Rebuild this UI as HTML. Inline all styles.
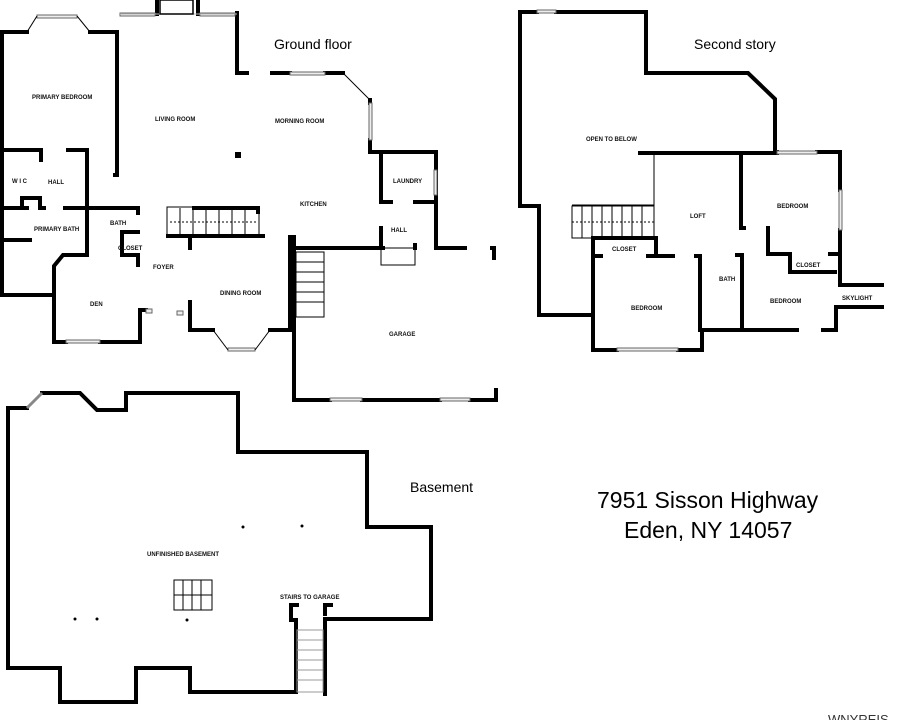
<!DOCTYPE html>
<html><head><meta charset="utf-8"><style>
html,body{margin:0;padding:0;background:#fff;width:923px;height:720px;overflow:hidden}
svg{display:block}
.w{fill:none;stroke:#000;stroke-width:4;stroke-linejoin:miter;stroke-linecap:square}
.t{fill:none;stroke:#000;stroke-width:1}
.win{fill:#eee;stroke:#666;stroke-width:1}
.l{font-family:"Liberation Sans",sans-serif;font-size:6px;font-weight:bold;fill:#111}
.h{font-family:"Liberation Sans",sans-serif;font-size:14px;fill:#000}
.a{font-family:"Liberation Sans",sans-serif;font-size:23px;fill:#000}
</style></head><body>
<svg width="923" height="720" viewBox="0 0 923 720" xmlns="http://www.w3.org/2000/svg">
<g class="w">
<polyline points="0,32 27,32"/>
<polyline points="90,32 117,32 117,175 115,175"/>
<polyline points="2,32 2,295 54,295"/>
<polyline points="237,13 237,73 247,73"/>
<polyline points="272,73 290,73"/>
<polyline points="325,73 343,73"/>
<polyline points="370,100 370,103"/>
<polyline points="370,140 370,152 436,152 436,248 465,248"/>
<polyline points="381,153 381,202 391,202"/>
<polyline points="415,202 433,202"/>
<polyline points="381,228 381,248"/>
<polyline points="415,245 415,248"/>
<polyline points="290,237 294,237 294,400 330,400"/>
<polyline points="362,400 440,400"/>
<polyline points="470,400 496,400 496,390"/>
<polyline points="294,248 383,248"/>
<polyline points="492,248 494,248 494,258"/>
<polyline points="2,150 41,150 41,160"/>
<polyline points="68,150 87,150 87,255"/>
<polyline points="2,208 27,208"/>
<polyline points="22,208 22,198 40,198 40,208 44,208"/>
<polyline points="65,208 138,208 138,213"/>
<polyline points="2,240 30,240"/>
<polyline points="138,232 122,232 122,255 138,255"/>
<polyline points="138,255 138,265"/>
<polyline points="87,255 63,255 54,266 54,342 66,342"/>
<polyline points="100,342 140,342 140,310 146,310"/>
<polyline points="194,208 258,208 258,212"/>
<polyline points="168,236 263,236"/>
<polyline points="190,237 190,248"/>
<polyline points="190,302 190,330 213,330"/>
<polyline points="270,330 290,330 290,237"/>
<polyline points="157,14 157,2"/>
<polyline points="198,14 198,2"/>
</g>
<rect x="235" y="152" width="6" height="6" fill="#000"/>
<g class="win">
<rect x="37" y="15" width="40" height="3"/>
<rect x="120" y="13" width="35" height="3"/>
<rect x="200" y="13" width="35" height="3"/>
<rect x="290" y="72" width="35" height="3"/>
<rect x="369" y="103" width="3" height="37"/>
<rect x="434" y="170" width="3" height="25"/>
<rect x="66" y="340" width="34" height="3"/>
<rect x="228" y="348" width="27" height="3"/>
<rect x="330" y="398" width="32" height="3"/>
<rect x="440" y="398" width="30" height="3"/>
<rect x="146" y="309" width="6" height="4"/>
<rect x="177" y="311" width="6" height="4"/>
</g>
<g class="t">
<line x1="27" y1="32" x2="37" y2="16"/><line x1="77" y1="16" x2="90" y2="32"/>
<line x1="343" y1="73" x2="370" y2="100"/>
<line x1="213" y1="330" x2="228" y2="350"/><line x1="255" y1="350" x2="270" y2="330"/>
<line x1="120" y1="14" x2="237" y2="14" stroke="#bbb"/>
<rect x="167" y="207" width="92" height="29"/>
<line x1="170" y1="222" x2="258" y2="222" stroke-dasharray="2,2"/>
<rect x="296" y="252" width="28" height="65"/>
<rect x="381" y="248" width="34" height="17"/>
<rect x="160" y="0" width="33" height="14" stroke-width="1.5"/>
</g>
<g class="t" stroke="#444">
<line x1="180" y1="208" x2="180" y2="236"/><line x1="193" y1="208" x2="193" y2="236"/><line x1="206" y1="208" x2="206" y2="236"/><line x1="219" y1="208" x2="219" y2="236"/><line x1="232" y1="208" x2="232" y2="236"/><line x1="245" y1="208" x2="245" y2="236"/>
<line x1="296" y1="262" x2="324" y2="262"/><line x1="296" y1="272" x2="324" y2="272"/><line x1="296" y1="282" x2="324" y2="282"/><line x1="296" y1="292" x2="324" y2="292"/><line x1="296" y1="302" x2="324" y2="302"/>
</g>
<g class="l">
<text x="32" y="99">PRIMARY BEDROOM</text>
<text x="155" y="121">LIVING ROOM</text>
<text x="275" y="123">MORNING ROOM</text>
<text x="12" y="183">W I C</text>
<text x="48" y="184">HALL</text>
<text x="393" y="183">LAUNDRY</text>
<text x="34" y="231">PRIMARY BATH</text>
<text x="110" y="225">BATH</text>
<text x="300" y="206">KITCHEN</text>
<text x="391" y="232">HALL</text>
<text x="118" y="250">CLOSET</text>
<text x="153" y="269">FOYER</text>
<text x="220" y="295">DINING ROOM</text>
<text x="90" y="306">DEN</text>
<text x="389" y="336">GARAGE</text>
</g>
<text class="h" x="274" y="49">Ground floor</text>
<g class="w">
<polyline points="537,12 520,12 520,206 539,206 539,315 593,315 593,350 617,350"/>
<polyline points="556,12 646,12 646,73 748,73 775,99 775,152 777,152"/>
<polyline points="817,152 840,152 840,190"/>
<polyline points="840,230 840,285 882,285"/>
<polyline points="678,350 702,350 702,330 797,330"/>
<polyline points="823,330 836,330 836,307 882,307"/>
<polyline points="640,153 777,153"/>
<polyline points="741,153 741,228 744,228"/>
<polyline points="593,238 656,238 656,256"/>
<polyline points="593,238 593,350"/>
<polyline points="593,256 601,256"/>
<polyline points="648,256 673,256"/>
<polyline points="696,256 700,256 700,330"/>
<polyline points="737,255 742,255 742,328"/>
<polyline points="768,228 768,254 790,254 790,272 835,272"/>
<polyline points="830,254 836,254"/>
</g>
<g class="win">
<rect x="537" y="10" width="19" height="3"/>
<rect x="777" y="151" width="40" height="3"/>
<rect x="839" y="190" width="3" height="40"/>
<rect x="617" y="348" width="61" height="3"/>
</g>
<g class="t">
<polyline points="654,154 654,205 572,205"/>
<rect x="572" y="206" width="82" height="32"/>
<line x1="572" y1="222" x2="654" y2="222" stroke-dasharray="2,2"/>
<line x1="582" y1="206" x2="582" y2="238"/><line x1="592" y1="206" x2="592" y2="238"/><line x1="602" y1="206" x2="602" y2="238"/><line x1="612" y1="206" x2="612" y2="238"/><line x1="622" y1="206" x2="622" y2="238"/><line x1="632" y1="206" x2="632" y2="238"/><line x1="642" y1="206" x2="642" y2="238"/>
</g>
<g class="l">
<text x="586" y="141">OPEN TO BELOW</text>
<text x="690" y="218">LOFT</text>
<text x="777" y="208">BEDROOM</text>
<text x="612" y="251">CLOSET</text>
<text x="796" y="267">CLOSET</text>
<text x="719" y="281">BATH</text>
<text x="770" y="303">BEDROOM</text>
<text x="842" y="300">SKYLIGHT</text>
<text x="631" y="310">BEDROOM</text>
</g>
<text class="h" x="694" y="49">Second story</text>
<g class="w">
<polyline points="27,408 8,408 8,668 60,668 60,702 136,702 136,668 190,668 190,692 296,692 296,620"/>
<polyline points="42,393 80,393 97,410 126,410 126,393 238,393 238,452 367,452 367,527 431,527 431,619 325,619 325,694"/>
<polyline points="296,620 291,620 291,605 297,605"/>
<polyline points="325,614 325,605 331,605"/>
</g>
<g class="t">
<line x1="27" y1="408" x2="42" y2="393" stroke="#888" stroke-width="3"/>
<rect x="174" y="580" width="38" height="30"/>
<line x1="174" y1="595" x2="212" y2="595"/>
<line x1="183" y1="580" x2="183" y2="610"/><line x1="192" y1="580" x2="192" y2="610"/><line x1="201" y1="580" x2="201" y2="610"/>
<rect x="297" y="630" width="26" height="62" stroke="#999"/>
<line x1="297" y1="640" x2="323" y2="640" stroke="#999"/><line x1="297" y1="650" x2="323" y2="650" stroke="#999"/><line x1="297" y1="660" x2="323" y2="660" stroke="#999"/><line x1="297" y1="670" x2="323" y2="670" stroke="#999"/><line x1="297" y1="680" x2="323" y2="680" stroke="#999"/>
</g>
<g fill="#000">
<circle cx="243" cy="527" r="1.5"/><circle cx="302" cy="526" r="1.5"/>
<circle cx="75" cy="619" r="1.5"/><circle cx="97" cy="619" r="1.5"/><circle cx="187" cy="620" r="1.5"/>
</g>
<g class="l">
<text x="147" y="556">UNFINISHED BASEMENT</text>
<text x="280" y="599">STAIRS TO GARAGE</text>
</g>
<text class="h" x="410" y="492">Basement</text>
<text class="a" x="597" y="508">7951 Sisson Highway</text>
<text class="a" x="624" y="538">Eden, NY 14057</text>
<text x="828" y="724" font-family="Liberation Sans,sans-serif" font-size="13" fill="#333">WNYREIS</text>
</svg>
</body></html>
